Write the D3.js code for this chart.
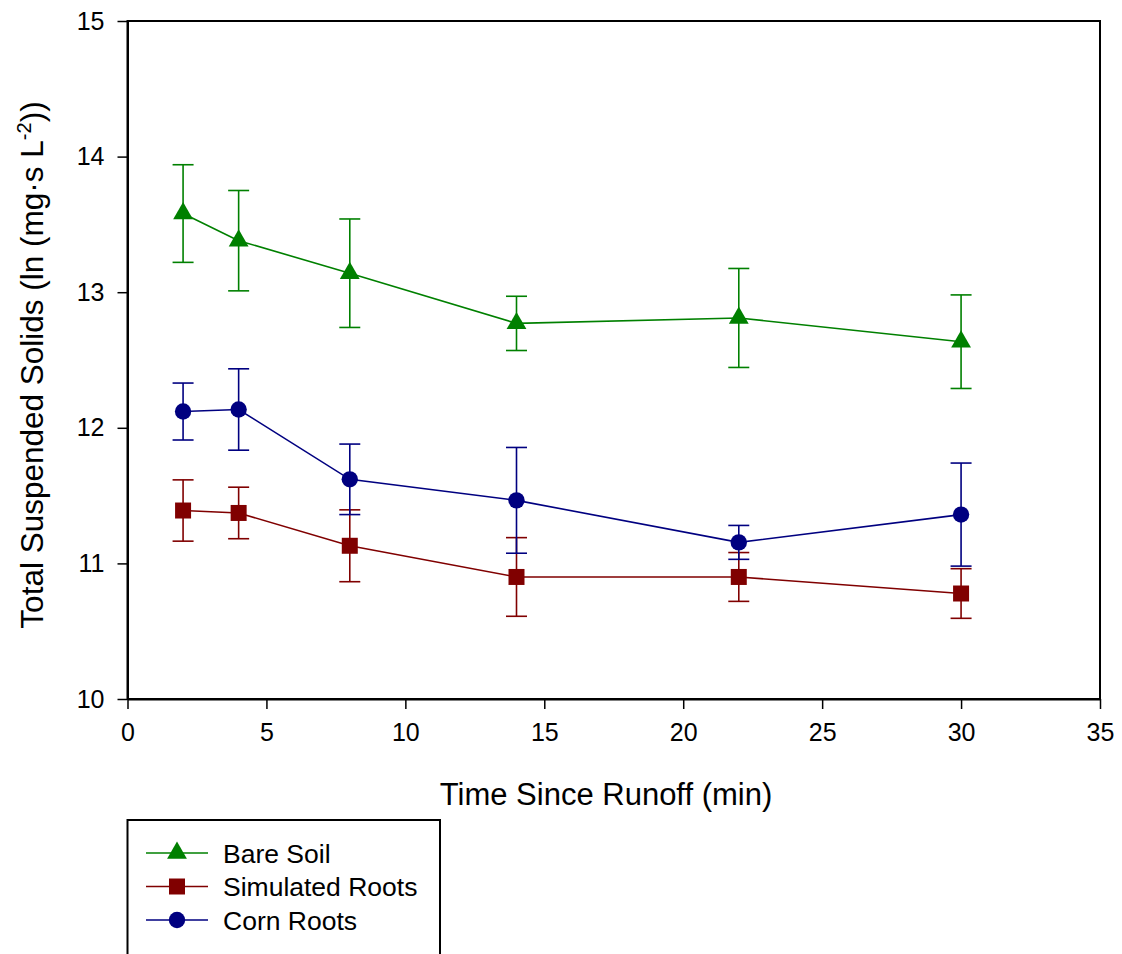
<!DOCTYPE html>
<html>
<head>
<meta charset="utf-8">
<script src="https://cdn.jsdelivr.net/npm/d3@7/dist/d3.min.js"></script>
<style>
  html, body { margin: 0; padding: 0; background: #fff; }
  svg { display: block; font-family: "Liberation Sans", Arial, sans-serif; }
</style>
</head>
<body>
<svg id="chart" width="1122" height="954"></svg>
<script>
// Sampling times (min)
const times = [2, 4, 8, 14, 22, 30];

// Mean TSS, ln(mg·s L^-2), and standard errors per treatment
const bareSoil = [13.58, 13.38, 13.14, 12.77, 12.81, 12.635];
const bareSoilErr = [0.36, 0.37, 0.40, 0.20, 0.365, 0.345];

const simulatedRoots = [11.39, 11.372, 11.13, 10.90, 10.90, 10.778];
const simulatedRootsErr = [0.226, 0.19, 0.265, 0.29, 0.18, 0.183];

const cornRoots = [12.12, 12.135, 11.62, 11.465, 11.155, 11.36];
const cornRootsErr = [0.21, 0.30, 0.26, 0.39, 0.125, 0.38];

const xTicks = [0, 5, 10, 15, 20, 25, 30, 35];
const yTicks = [10, 11, 12, 13, 14, 15];

const series = [
  { name: "Bare Soil", values: bareSoil, errs: bareSoilErr, color: "#008000", symbol: d3.symbolTriangle },
  { name: "Simulated Roots", values: simulatedRoots, errs: simulatedRootsErr, color: "#800000", symbol: d3.symbolSquare },
  { name: "Corn Roots", values: cornRoots, errs: cornRootsErr, color: "#000080", symbol: d3.symbolCircle }
];

const svg = d3.select("#chart");
const plotLeft = 127.5, plotRight = 1100, plotTop = 21, plotBottom = 699;

const x = d3.scaleLinear().domain([0, 35]).range([plotLeft, plotRight]);
const y = d3.scaleLinear().domain([10, 15]).range([plotBottom, plotTop]);

const symbolSize = s => s === d3.symbolTriangle ? 170 : s === d3.symbolSquare ? 256 : 210;

// Frame
svg.append("rect")
  .attr("x", plotLeft).attr("y", plotTop)
  .attr("width", plotRight - plotLeft).attr("height", plotBottom - plotTop)
  .attr("fill", "none").attr("stroke", "#000").attr("stroke-width", 2);

// Axes
const xAxis = svg.append("g")
  .attr("transform", `translate(0,${plotBottom})`)
  .call(d3.axisBottom(x).tickValues(xTicks).tickFormat(d3.format("d"))
    .tickSize(10).tickPadding(14).tickSizeOuter(0));
const yAxis = svg.append("g")
  .attr("transform", `translate(${plotLeft},0)`)
  .call(d3.axisLeft(y).tickValues(yTicks).tickFormat(d3.format("d"))
    .tickSize(10).tickPadding(13).tickSizeOuter(0));

[xAxis, yAxis].forEach(g => {
  g.select(".domain").attr("stroke", "#000").attr("stroke-width", 2);
  g.selectAll(".tick line").attr("stroke", "#000").attr("stroke-width", 1.5);
  g.selectAll(".tick text").attr("fill", "#000")
    .style("font-size", "25px").style("font-family", "'Liberation Sans', Arial, sans-serif");
});

// Axis titles
svg.append("text")
  .attr("x", 606).attr("y", 805)
  .attr("text-anchor", "middle")
  .style("font-size", "31px")
  .text("Time Since Runoff (min)");

const yTitle = svg.append("text")
  .attr("transform", "translate(43,365) rotate(-90)")
  .attr("text-anchor", "middle")
  .style("font-size", "31.5px");
yTitle.append("tspan").text("Total Suspended Solids (ln (mg·s L");
yTitle.append("tspan").attr("dy", -12).style("font-size", "20px").text("-2");
yTitle.append("tspan").attr("dy", 12).text("))");

// Series: line, error bars, markers
const line = d3.line().x((d, i) => x(times[i])).y(d => y(d));
const capHalf = 10.5;

series.forEach(s => {
  const g = svg.append("g");
  g.append("path")
    .attr("d", line(s.values))
    .attr("fill", "none").attr("stroke", s.color).attr("stroke-width", 1.6);

  s.values.forEach((v, i) => {
    const cx = x(times[i]);
    const hi = y(v + s.errs[i]), lo = y(v - s.errs[i]);
    g.append("line").attr("x1", cx).attr("x2", cx).attr("y1", hi).attr("y2", lo)
      .attr("stroke", s.color).attr("stroke-width", 1.6);
    [hi, lo].forEach(yy => g.append("line")
      .attr("x1", cx - capHalf).attr("x2", cx + capHalf).attr("y1", yy).attr("y2", yy)
      .attr("stroke", s.color).attr("stroke-width", 1.6));
  });

  g.selectAll("path.mark").data(s.values).join("path")
    .attr("class", "mark")
    .attr("transform", (d, i) => `translate(${x(times[i])},${y(d)})`)
    .attr("d", d3.symbol().type(s.symbol).size(symbolSize(s.symbol)))
    .attr("fill", s.color);
});

// Legend
const legend = svg.append("g");
legend.append("rect")
  .attr("x", plotLeft).attr("y", 820).attr("width", 440 - plotLeft).attr("height", 160)
  .attr("fill", "none").attr("stroke", "#000").attr("stroke-width", 2);

series.forEach((s, i) => {
  const ly = 853 + i * 33.5;
  legend.append("line").attr("x1", 146).attr("x2", 208).attr("y1", ly).attr("y2", ly)
    .attr("stroke", s.color).attr("stroke-width", 1.6);
  legend.append("path")
    .attr("transform", `translate(177,${ly})`)
    .attr("d", d3.symbol().type(s.symbol).size(symbolSize(s.symbol)))
    .attr("fill", s.color);
  legend.append("text")
    .attr("x", 223).attr("y", ly + 9.5)
    .style("font-size", "26.5px")
    .text(s.name);
});
</script>
</body>
</html>
